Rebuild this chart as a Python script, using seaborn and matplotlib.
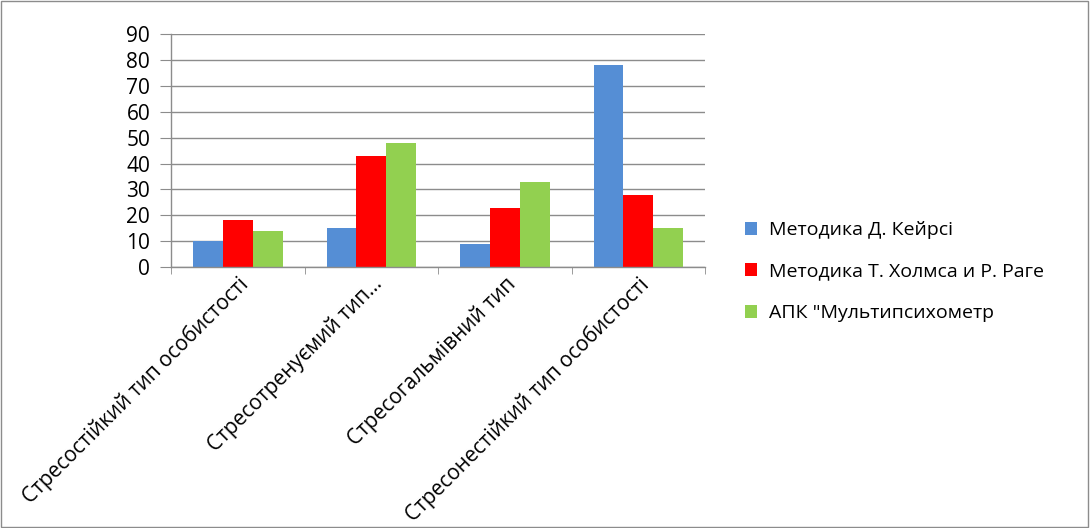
import matplotlib
matplotlib.use("Agg")
import matplotlib.pyplot as plt
import matplotlib.transforms as mtransforms
import seaborn as sns
import pandas as pd
from matplotlib.patches import Rectangle

categories = ["Стресостійкий тип особистості", "Стресотренуємий тип...",
              "Стресогальмівний тип", "Стресонестійкий тип особистості"]
series_names = ["Методика Д. Кейрсі", "Методика Т. Холмса и Р. Раге", "АПК \"Мультипсихометр"]
keirsey = [10, 15, 9, 78]
holmes = [18, 43, 23, 28]
apk = [14, 48, 33, 15]
colors = ["#558ED5", "#FF0000", "#92D050"]

rows = []
for name, vals in zip(series_names, [keirsey, holmes, apk]):
    for c, v in zip(categories, vals):
        rows.append({"cat": c, "series": name, "value": v})
df = pd.DataFrame(rows)

sns.set_style("white")
plt.rcParams['font.family'] = ['Open Sans', 'DejaVu Sans']
plt.rcParams['text.color'] = 'black'

fig = plt.figure(figsize=(10.9, 5.28), dpi=100)
ax = fig.add_axes([0.1569, 0.4943, 0.49, 0.441])
sns.barplot(data=df, x="cat", y="value", hue="series", palette=colors,
            width=0.67, ax=ax, saturation=1, edgecolor="none", order=categories,
            hue_order=series_names)

ax.set_ylim(0, 90)
ax.set_yticks(range(0, 91, 10))
ax.set_xlim(-0.5, 3.5)
ax.yaxis.grid(True, color="#8C8C8C", linewidth=1)
ax.set_axisbelow(True)
for s in ["top", "right"]:
    ax.spines[s].set_visible(False)
for s in ["left", "bottom"]:
    ax.spines[s].set_color("#8C8C8C")
    ax.spines[s].set_linewidth(1)
ax.set_xlabel("")
ax.set_ylabel("")
ax.tick_params(axis="y", labelsize=15, length=8, color="#8C8C8C", labelcolor="black",
               left=True, pad=7)
ax.set_xticks([-0.5, 0.5, 1.5, 2.5, 3.5], minor=True)
ax.tick_params(axis="x", which="minor", length=5, color="#8C8C8C", bottom=True)
ax.tick_params(axis="x", which="major", length=0, labelsize=15, labelcolor="black", pad=6)
ax.set_xticks(range(len(categories)))
ax.set_xticklabels(categories, rotation=45, ha="right", rotation_mode="anchor")
offset = mtransforms.ScaledTranslation(0 / 100, 2 / 100, fig.dpi_scale_trans)
for lbl in ax.get_xticklabels():
    lbl.set_transform(lbl.get_transform() + offset)

leg = ax.legend(loc="center left", bbox_to_anchor=(1.041, -0.02), frameon=False, fontsize=14,
                handlelength=0.65, handleheight=0.65, labelspacing=1.2, handletextpad=0.6)
for t in leg.get_texts():
    t.set_color("black")

fig.patches.append(Rectangle((0.001, 0.002), 0.997, 0.996, transform=fig.transFigure,
                             fill=False, edgecolor="#8C8C8C", linewidth=1))
fig.savefig("out.png", dpi=100)
